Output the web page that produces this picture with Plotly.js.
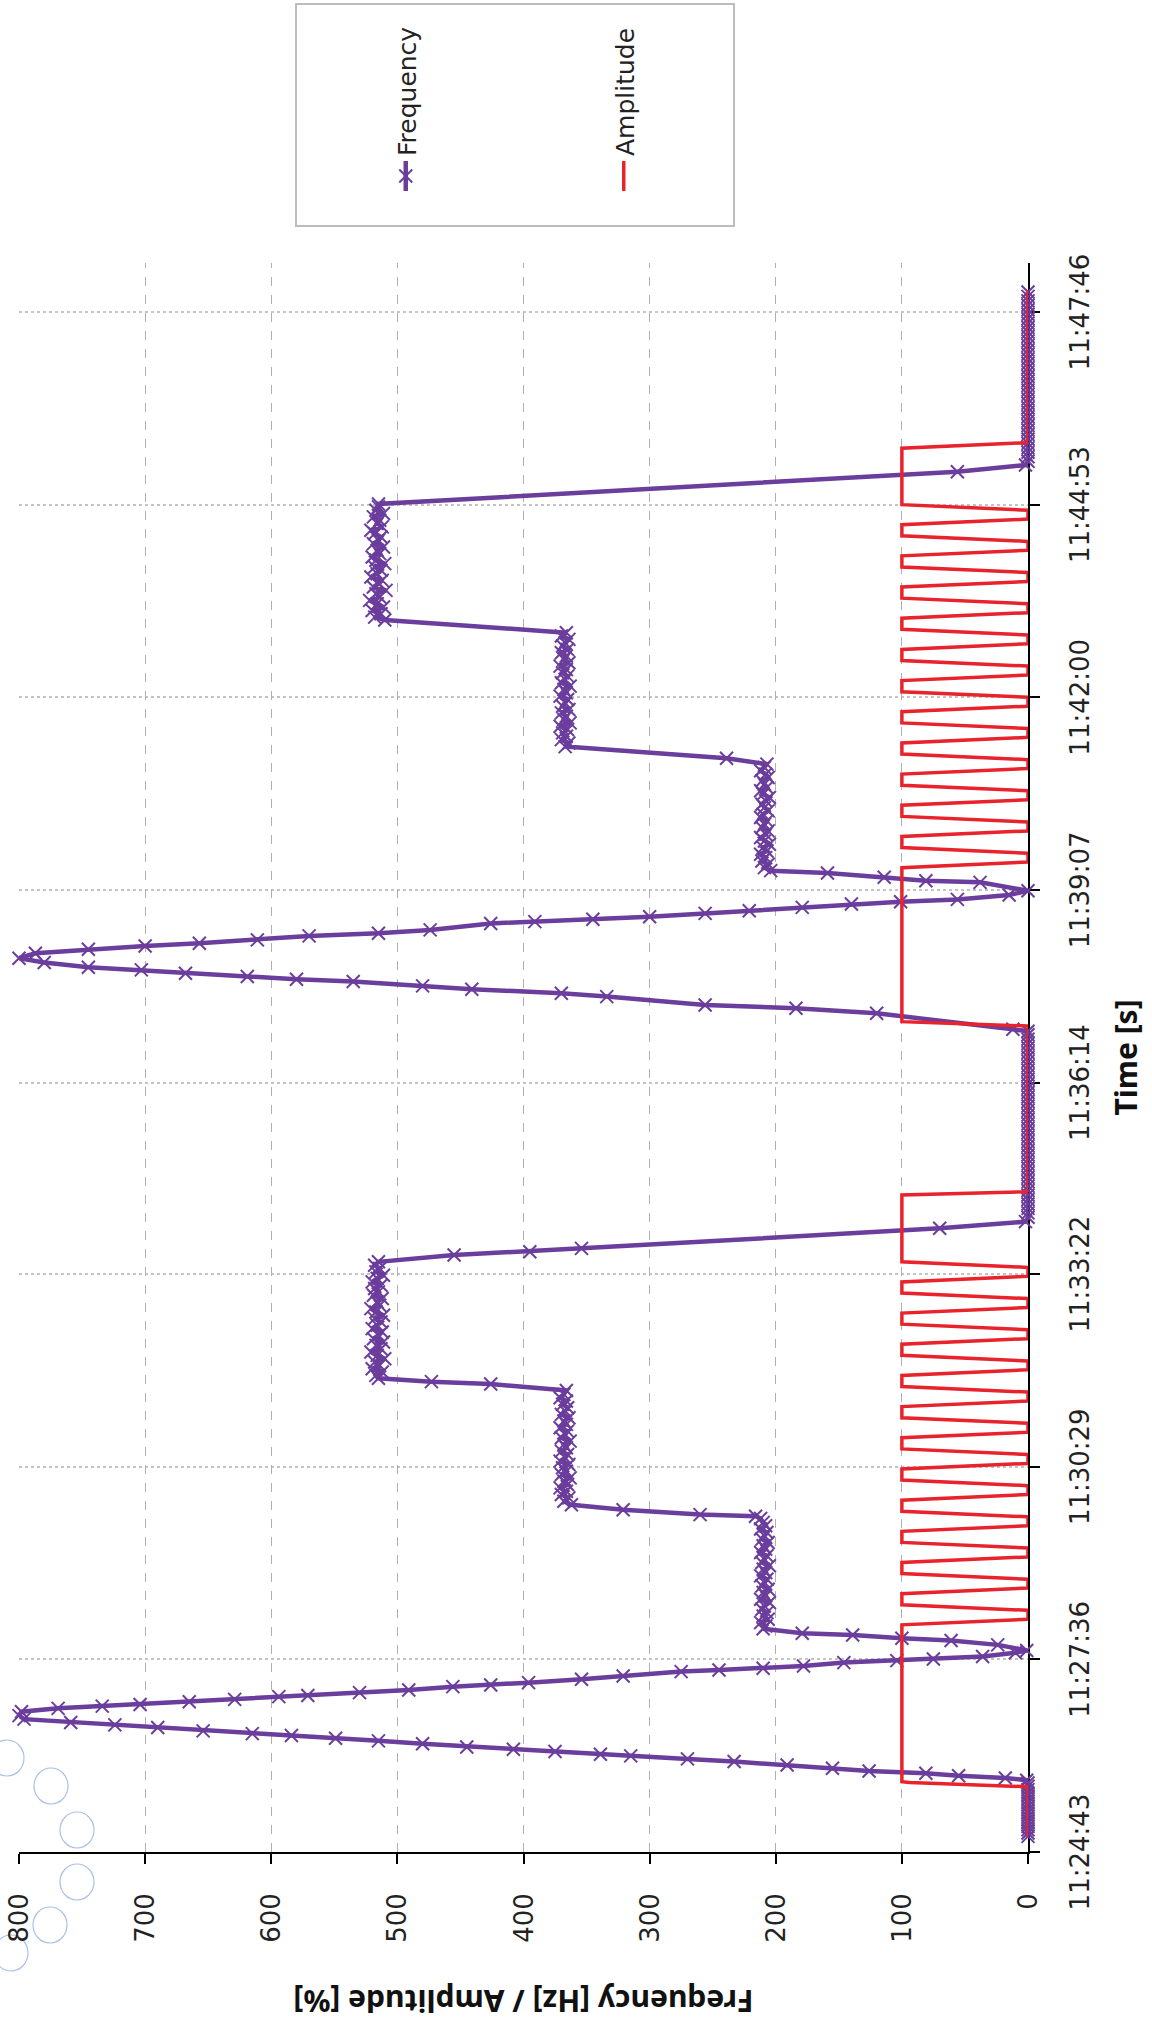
<!DOCTYPE html>
<html><head><meta charset="utf-8">
<script src="https://cdn.plot.ly/plotly-3.0.1.min.js"></script>
<style>
html,body{margin:0;padding:0;width:1152px;height:2022px;overflow:hidden;background:#fff;}
#wrap{position:absolute;left:0;top:0;width:2022px;height:1152px;transform-origin:0 0;transform:translate(0px,2022px) rotate(-90deg);}
#chart{width:2022px;height:1152px;}
</style></head><body><div id="wrap"><div id="chart"></div></div>
<script>
// ---------- data (seconds after 11:24:43) ----------
const startTime = '11:24:43';
const timeTickLabels = ['11:24:43','11:27:36','11:30:29','11:33:22','11:36:14','11:39:07','11:42:00','11:44:53','11:47:46'];
const valueTicks = [0,100,200,300,400,500,600,700,800];

const freqTime = [
 14,17,20,23,26,29,32,35,38,41,44,47,50,53,56,59,62,64.5,
 66.5,68.5,70.7,72.8,75.2,78.2,81.2,83.6,86.3,87.8,90.2,92.3,94.3,97.2,99.8,102.2,104.6,106.3,108.8,111.8,114.2,116.3,119.3,122.5,
 126,129,131,132.5,135,137.1,139.5,140.6,143.1,145.5,148.5,150,152.1,155.1,158.1,162,163.5,165,167.1,170.1,171.9,173.3,175.5,179,181,
 186,190,192,194.9,196.4,200.5,
 203,206,209,212,215,218,221,224,227,230,233,236,239,242,245,248,251,254,257,260,263,266,269,272,275,278,281,284,287,290,293,296,299.5,
 301.5,303,307.4,311.9,
 315,318,321,324,327,330,333,336,339,342,345,348,351,354,357,360,363,366,369,372,375,378,381,384,387,390,393,396,399,402,405,408,411,414.5,
 420.3,422.4,425.4,
 428,431,434,437,440,443,446,449,452,455,458,461,464,467,470,473,476,479,482,485,488,491,494,497,500,503,506,509,512,515,518,521,524,527,530,
 536.1,539.1,542.1,560.1,566.1,
 570,574,578,582,586,590,594,598,602,606,610,614,618,622,626,630,634,638,642,646,650,654,658,662,666,670,674,678,682,686,690,694,698,702,706,710,714,718,722,726,730,734,737,
 738.8,753.2,757.7,760.7,768.2,771.2,774.8,777.8,781.7,783.8,786.2,789.2,792.2,794.6,798.8,802.7,
 807.1,810.7,813.7,816.1,819.1,822.7,825.1,828.1,833.9,835.5,837.6,839.9,842.9,845.3,848.3,851.3,853.4,855.5,859.4,863.3,
 870.8,872.3,875.3,879.2,881.3,
 884,887,890,893,896,899,902,905,908,911,914,917,920,923,926,929,932,935,938,941,944,947,950,953,956,959,962,965,968,971,974,977,
 982.2,
 992.7,996,999,1002,1005,1008,1011,1014,1017,1020,1023,1026,1029,1032,1035,1038,1041,1044,1047,1050,1053,1056,1059,1062,1065,1068,1071,1074,1077,1080,1083,1086,1089,1092,1095,
 1106.4,
 1109,1112,1115,1118,1121,1124,1127,1130,1133,1136,1139,1142,1145,1148,1151,1154,1157,1160,1163,1166,1169,1172,1175,1178,1181,1184,1187,1190,1193,1196,1199,1202,1205,1208,1210.6,
 1239.6,1245.6,
 1249,1253,1257,1261,1265,1269,1273,1277,1281,1285,1289,1293,1297,1301,1305,1309,1313,1317,1321,1325,1329,1333,1337,1341,1345,1349,1353,1357,1361,1365,1369,1373,1377,1381,1385,1389,1393,1397,1401
];
const freqValue = [
 0,0,0,0,0,0,0,0,0,0,0,0,0,0,0,0,0,1,
 18,55,81,126,155,191,233,270,315,339,375,408,445,480,515,549,584,615,654,690,724,759,796,800,
 798,769,734,704,665,629,594,571,530,491,456,426,396,354,321,275,245,210,178,146,104,75,36,10,1,
 24,61,100,139,179,210,
 208,212,206,210,207,211,209,205,212,208,210,206,211,209,207,212,208,210,205,211,209,207,212,208,210,206,211,209,207,212,208,210,212,
 216,260,321,362,
 368,364,370,366,371,365,368,363,370,366,369,364,371,367,365,370,366,368,363,370,367,365,371,366,368,364,370,367,365,369,366,371,368,366,
 426,473,515,
 517,512,520,514,518,510,516,521,513,517,511,519,515,512,520,516,513,518,511,517,521,514,516,512,519,515,518,513,520,516,511,517,514,518,515,
 455,395,354,70,2,
 0,0,0,0,0,0,0,0,0,0,0,0,0,0,0,0,0,0,0,0,0,0,0,0,0,0,0,0,0,0,0,0,0,0,0,0,0,0,0,0,0,0,0,
 12,120,184,256,334,370,441,480,535,580,619,668,703,745,780,800,
 787,745,700,657,611,570,515,474,426,391,345,300,256,221,179,140,101,56,15,0,
 38,81,114,159,204,
 209,206,211,208,212,207,210,205,209,212,208,206,211,209,207,212,210,206,209,211,208,205,210,212,207,209,211,206,208,212,209,207,
 239,
 367,364,370,366,369,365,371,363,368,366,370,364,369,367,365,371,366,368,363,370,367,365,369,366,371,364,368,366,370,365,369,367,364,370,366,
 510,
 518,513,520,511,516,522,514,517,509,519,515,512,521,516,513,518,510,517,520,514,516,511,519,515,513,518,521,512,516,514,519,511,517,515,515,
 56,2,
 0,0,0,0,0,0,0,0,0,0,0,0,0,0,0,0,0,0,0,0,0,0,0,0,0,0,0,0,0,0,0,0,0,0,0,0,0,0,0
];

// amplitude: one row per pulse (high, falling, low, rising)
const ampTime = [
 14,58.6,62.5,63.1,
 204,209,217,222,
 232,237,245,250,
 260,265,273,278,
 288,293,301,306,
 316,321,329,334,
 344,349,357,362,
 372,377,385,390,
 400,405,413,418,
 428,433,441,446,
 456,461,469,474,
 484,489,497,502,
 512,517,525,530,
 590,593,741.8,745.7,
 884,889,897,902,
 912,917,925,930,
 940,945,953,958,
 968,973,981,986,
 996,1001,1009,1014,
 1024,1029,1037,1042,
 1052,1057,1065,1070,
 1080,1085,1093,1098,
 1108,1113,1121,1126,
 1136,1141,1149,1154,
 1164,1169,1177,1182,
 1192,1197,1205,1210,
 1260.6,1265.7,1402.8
];
const ampValue = [
 0,0,94,100,
 100,0,0,100,
 100,0,0,100,
 100,0,0,100,
 100,0,0,100,
 100,0,0,100,
 100,0,0,100,
 100,0,0,100,
 100,0,0,100,
 100,0,0,100,
 100,0,0,100,
 100,0,0,100,
 100,0,0,100,
 100,0,0,100,
 100,0,0,100,
 100,0,0,100,
 100,0,0,100,
 100,0,0,100,
 100,0,0,100,
 100,0,0,100,
 100,0,0,100,
 100,0,0,100,
 100,0,0,100,
 100,0,0,100,
 100,0,0,100,
 100,0,0,100,
 100,0,0
];

// ---------- helpers ----------
function secs(s){const p=s.split(':').map(Number);return p[0]*3600+p[1]*60+p[2];}
const t0 = secs(startTime);
const tickVals = timeTickLabels.map(s => secs(s) - t0);

const W=2022, H=1152;
const M={l:170, r:263, t:19, b:124};
const px = u => (u - M.l)/(W - M.l - M.r);
const py = v => (H - M.b - v)/(H - M.t - M.b);

const purple = '#6b3d9c', red = '#e8232b';

const traces = [
 {x: freqTime, y: freqValue, type:'scatter', mode:'lines+markers', name:'Frequency',
  line:{color:purple, width:4.5}, marker:{symbol:'x-thin', size:13, color:purple, line:{color:purple, width:2}},
  cliponaxis:false, legend:'legend'},
 {x: ampTime, y: ampValue, type:'scatter', mode:'lines', name:'Amplitude',
  line:{color:red, width:3.5}, cliponaxis:false, legend:'legend2'}
];

// faint page decoration circles (bottom-left of the reference)
const deco = [[264,7],[236,51],[192,77],[140,77],[97,50],[69,11]].map(c => ({
 type:'circle', xref:'paper', yref:'paper', x0:px(c[0]-18), x1:px(c[0]+18), y0:py(c[1]+17), y1:py(c[1]-17),
 line:{color:'#a9c1e6', width:1.2}, fillcolor:'rgba(0,0,0,0)', layer:'below'}));

const tickFont = {family:'DejaVu Sans', size:26, color:'#222'};
const titleFont = {family:'Noto Sans', size:30, color:'#111', weight:'bold'};
const legendFont = {family:'DejaVu Sans', size:25, color:'#222'};
const layout = {
 width:W, height:H, margin:M, paper_bgcolor:'#fff', plot_bgcolor:'rgba(0,0,0,0)',
 showlegend:true,
 xaxis:{range:[0,1427], tickvals:tickVals, ticktext:timeTickLabels, tickfont:tickFont,
  showgrid:true, gridcolor:'#c4c4c4', griddash:'dot', gridwidth:2,
  showline:true, linecolor:'#000', linewidth:2, ticks:'outside', ticklen:10, tickwidth:2, tickcolor:'#000',
  ticklabelstandoff:18, zeroline:false, layer:'below traces',
  title:{text:'Time [s]', font:titleFont, standoff:22}},
 yaxis:{range:[0,800], tickvals:valueTicks, tickfont:tickFont,
  showgrid:true, gridcolor:'#b0b0b0', griddash:'dash', gridwidth:1,
  showline:true, linecolor:'#000', linewidth:2, ticks:'outside', ticklen:10, tickwidth:2, tickcolor:'#000',
  ticklabelstandoff:24, zeroline:false, layer:'below traces',
  title:{text:'Frequency [Hz] / Amplitude [%]', font:titleFont, standoff:40}},
 legend:{x:px(1826), y:py(406), xanchor:'left', yanchor:'middle', bgcolor:'rgba(0,0,0,0)', borderwidth:0, font:legendFont},
 legend2:{x:px(1826), y:py(624), xanchor:'left', yanchor:'middle', bgcolor:'rgba(0,0,0,0)', borderwidth:0, font:legendFont},
 shapes:[{type:'rect', xref:'paper', yref:'paper', x0:px(1796), x1:px(2018), y0:py(734), y1:py(296),
  line:{color:'#bdbdbd', width:2}, fillcolor:'rgba(0,0,0,0)'}].concat(deco)
};
Plotly.newPlot('chart', traces, layout, {displayModeBar:false, staticPlot:true});
</script></body></html>
